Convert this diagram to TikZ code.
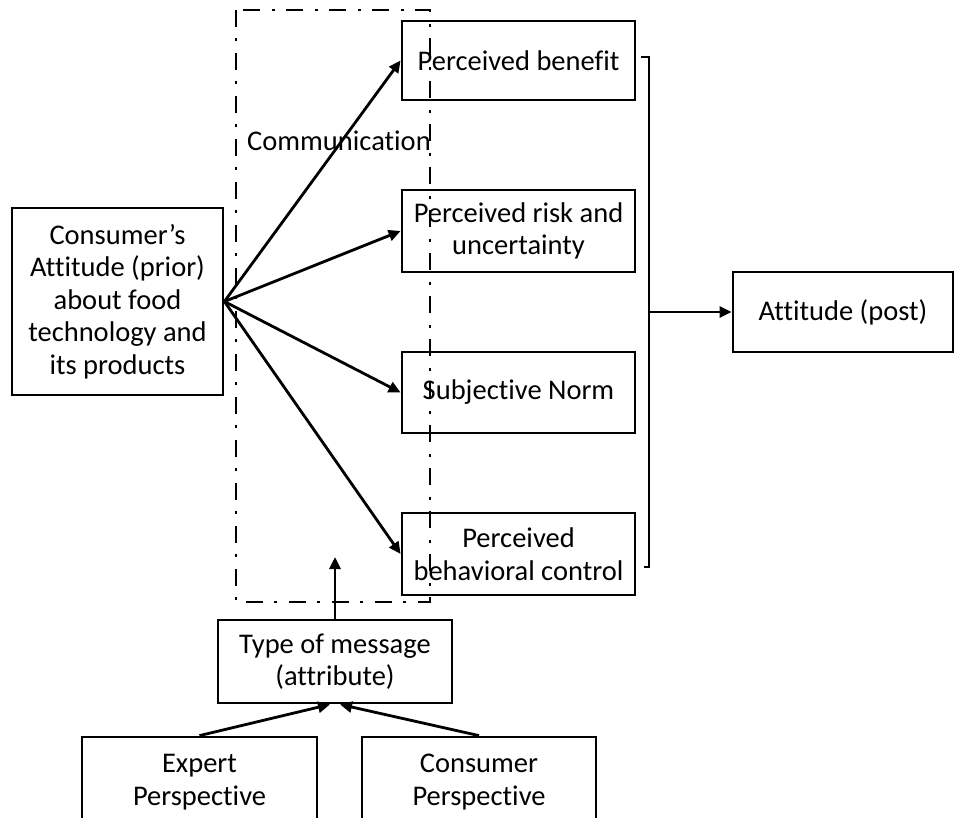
\documentclass[tikz,border=0pt]{standalone}
\usepackage{fontspec}
\setmainfont{Carlito}[Ligatures=NoCommon]
\usetikzlibrary{arrows.meta}
\begin{document}
\begin{tikzpicture}[x=1pt,y=-1pt,
  box/.style={draw,line width=2.8pt,inner sep=0pt,align=center,
    font=\fontsize{28.5}{32.5}\selectfont},
  arr/.style={line width=2.8pt,-{Triangle[length=12pt,width=11pt]}},
  commbox/.style={line width=2.6pt,dash pattern=on 17pt off 11pt on 3pt off 12pt}]
\useasboundingbox (0,0) rectangle (955,817);
\clip (0,0) rectangle (955,817);
\node[box,minimum width=211pt,minimum height=187pt] (ca) at (117.5,301.5) {Consumer’s\\Attitude (prior)\\about food\\technology and\\its products};
\node[box,minimum width=233pt,minimum height=79pt] (pb) at (518.5,60.5) {Perceived benefit};
\node[box,minimum width=233pt,minimum height=82pt] (pr) at (518.5,231) {Perceived risk and\\uncertainty};
\node[box,minimum width=233pt,minimum height=81pt] (sn) at (518.5,392.5) {Subjective Norm};
\node[box,minimum width=233pt,minimum height=82pt] (pc) at (518.5,554) {Perceived\\behavioral control};
\node[box,minimum width=220pt,minimum height=80pt] (ap) at (843,312) {Attitude (post)};
\node[box,minimum width=234pt,minimum height=83pt] (tm) at (335,661.5) {Type of message\\(attribute)};
\node[box,minimum width=235pt,minimum height=90pt] (ep) at (199.5,782) {Expert\\Perspective};
\node[box,minimum width=234pt,minimum height=90pt] (cp) at (479,782) {Consumer\\Perspective};
\draw[commbox] (236,10) rectangle (430,602);
\node[font=\fontsize{28.5}{32.5}\selectfont,inner sep=0pt] (comm) at (339,141) {Communication};
\draw[arr] (ca.east) -- (pb.west);
\draw[arr] (ca.east) -- (pr.west);
\draw[arr] (ca.east) -- (sn.west);
\draw[arr] (ca.east) -- (pc.west);
\coordinate (bt) at (649,57);
\coordinate (bb) at (649,567);
\coordinate (bm) at (649,312);
\draw[line width=2.8pt] ([xshift=-8pt]bt) -- (bt) -- (bb) -- ([xshift=-5pt]bb);
\draw[arr] (bm) -- (ap.west);
\coordinate (tmup) at (335,557);
\draw[arr] (tm.north) -- (tmup);
\draw[arr] (ep.north) -- ([xshift=-5pt]tm.south);
\draw[arr] (cp.north) -- ([xshift=5pt]tm.south);
\end{tikzpicture}
\end{document}
